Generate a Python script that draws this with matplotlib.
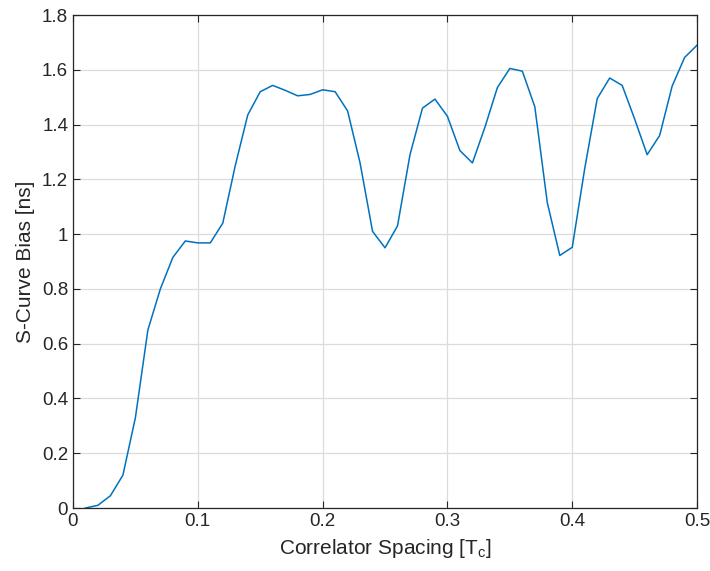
import matplotlib
matplotlib.use('Agg')
import matplotlib.pyplot as plt
import numpy as np

plt.rcParams['font.family'] = ['Liberation Sans', 'DejaVu Sans']
plt.rcParams['mathtext.fontset'] = 'custom'
plt.rcParams['mathtext.rm'] = 'Liberation Sans'
plt.rcParams['mathtext.it'] = 'Liberation Sans:italic'

spacing = np.arange(1, 51) / 100.0
bias = [0.0, 0.01, 0.045, 0.12, 0.33, 0.65, 0.80, 0.915, 0.975, 0.968,
        0.968, 1.04, 1.25, 1.435, 1.52, 1.543, 1.525, 1.505, 1.51, 1.527,
        1.52, 1.45, 1.26, 1.01, 0.95, 1.03, 1.29, 1.46, 1.493, 1.43,
        1.305, 1.26, 1.39, 1.535, 1.605, 1.595, 1.465, 1.115, 0.922, 0.952,
        1.24, 1.495, 1.57, 1.543, 1.42, 1.29, 1.36, 1.54, 1.645, 1.69]

fig = plt.figure(figsize=(7.1, 5.71), dpi=100)
ax = fig.add_axes([0.1028, 0.1103, 0.879, 0.8634])

ax.plot(spacing, bias, color='#0072BD', linewidth=1.1)

ax.set_xlim(0, 0.5)
ax.set_ylim(0, 1.8)
ax.set_xticks([0, 0.1, 0.2, 0.3, 0.4, 0.5])
ax.set_xticklabels(['0', '0.1', '0.2', '0.3', '0.4', '0.5'])
ax.set_yticks(np.arange(0, 1.81, 0.2))
ax.set_yticklabels(['0', '0.2', '0.4', '0.6', '0.8', '1', '1.2', '1.4', '1.6', '1.8'])

ax.grid(True, color='#dcdcdc', linewidth=0.9)
ax.set_axisbelow(True)
ax.tick_params(direction='in', top=True, right=True, labelsize=13.5,
               colors='#262626', length=5, width=0.8)
for s in ax.spines.values():
    s.set_color('#262626')
    s.set_linewidth(0.9)

ax.set_xlabel('Correlator Spacing [T$_{\\mathrm{c}}$]', fontsize=15, color='#262626', labelpad=5)
ax.set_ylabel('S-Curve Bias [ns]', fontsize=15, color='#262626', labelpad=5)

fig.savefig('out.png', dpi=100)
